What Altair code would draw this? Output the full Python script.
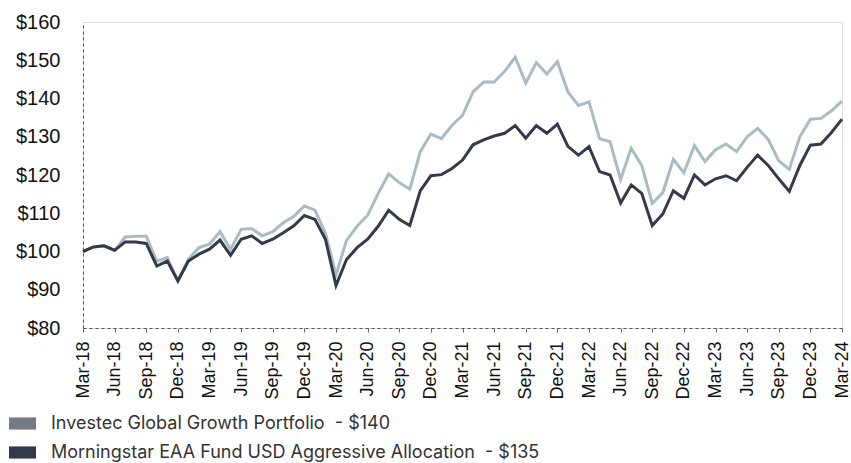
import altair as alt
import pandas as pd

months = list(pd.date_range("2018-03-01", "2024-03-01", freq="MS").strftime("%b-%y"))

investec = [
    100.0, 101.2, 101.5, 100.3, 103.8, 104.0, 104.0, 97.5, 98.4, 92.3,
    98.0, 101.0, 101.9, 105.2, 100.6, 105.8, 106.0, 104.1, 105.2, 107.5,
    109.2, 111.9, 110.8, 104.8, 93.9, 102.9, 106.6, 109.5, 115.2, 120.3,
    118.0, 116.3, 126.1, 130.7, 129.5, 133.0, 135.6, 141.7, 144.3, 144.3,
    147.1, 150.8, 144.0, 149.4, 146.4, 149.6, 141.7, 138.2, 139.1, 129.5,
    128.7, 118.8, 127.0, 122.5, 112.6, 115.4, 124.1, 120.6, 127.7, 123.5,
    126.6, 128.1, 126.1, 130.0, 132.2, 129.3, 123.7, 121.5, 130.0, 134.6,
    134.8, 136.8, 139.3,
]
morningstar = [
    100.0, 101.2, 101.5, 100.3, 102.5, 102.5, 102.1, 96.2, 97.5, 92.3,
    97.5, 99.3, 100.6, 103.0, 99.0, 103.2, 104.1, 102.1, 103.2, 104.9,
    106.7, 109.4, 108.4, 103.2, 91.1, 97.9, 101.0, 103.2, 106.6, 110.8,
    108.4, 106.8, 115.9, 119.8, 120.1, 121.7, 123.9, 127.9, 129.2, 130.2,
    130.9, 132.9, 129.6, 132.9, 130.9, 133.3, 127.5, 125.2, 127.4, 120.9,
    120.0, 112.7, 117.4, 115.2, 106.8, 109.8, 115.9, 113.9, 120.0, 117.4,
    119.0, 119.8, 118.5, 122.0, 125.2, 122.5, 119.0, 115.7, 122.5, 127.8,
    128.1, 131.1, 134.6,
]

series_names = ["Investec", "Morningstar"]
legend_labels = [
    "Investec Global Growth Portfolio \u00a0- $140",
    "Morningstar EAA Fund USD Aggressive Allocation \u00a0- $135",
]
line_colors = ["#a9bcc4", "#343a4b"]
legend_colors = ["#757b85", "#343a4b"]
y_ticks = [80, 90, 100, 110, 120, 130, 140, 150, 160]
x_ticks = months[::3]

rows = []
for name, lab, vals in zip(series_names, legend_labels, [investec, morningstar]):
    for m, v in zip(months, vals):
        rows.append({"month": m, "value": v, "series": name, "legend_label": lab})
df = pd.DataFrame(rows)

x_enc = alt.X(
    "month:O",
    sort=months,
    scale=alt.Scale(type="point", padding=0),
    axis=alt.Axis(
        values=x_ticks,
        title=None,
        labelAngle=-90,
        labelAlign="right",
        labelBaseline="middle",
        labelFont="Liberation Sans",
        labelFontSize=18,
        labelColor="#111111",
        labelPadding=9,
        ticks=True,
        tickSize=4,
        tickColor="#666666",
        domainColor="#555555",
        domainDash=[3, 3],
        domainWidth=1,
        grid=False,
    ),
)
y_enc = alt.Y(
    "value:Q",
    scale=alt.Scale(domain=[80, 160], nice=False, zero=False),
    axis=alt.Axis(
        values=y_ticks,
        title=None,
        labelExpr="'$' + datum.value",
        labelFont="Liberation Sans",
        labelFontSize=20,
        labelColor="#111111",
        labelPadding=23,
        ticks=False,
        domainColor="#555555",
        domainDash=[3, 3],
        domainWidth=1,
        grid=False,
    ),
)

lines = alt.Chart(df).mark_line(strokeWidth=3).encode(
    x=x_enc,
    y=y_enc,
    color=alt.Color(
        "series:N",
        scale=alt.Scale(domain=series_names, range=line_colors),
        legend=None,
    ),
)

legend_layer = alt.Chart(df).mark_square(opacity=0, size=10).encode(
    x=x_enc,
    y=y_enc,
    fill=alt.Fill(
        "legend_label:N",
        scale=alt.Scale(domain=legend_labels, range=legend_colors),
        legend=alt.Legend(
            title=None,
            orient="none",
            legendX=-74,
            legendY=388,
            direction="vertical",
            symbolType="M-1,-0.45H1V0.45H-1Z",
            symbolSize=729,
            symbolOpacity=1,
            symbolStrokeWidth=0,
            labelFont="Inter",
            labelFontSize=18,
            labelColor="#333333",
            labelOffset=15,
            rowPadding=6,
            labelLimit=700,
        ),
    ),
)

chart = (
    alt.layer(lines, legend_layer)
    .resolve_scale(color="independent", fill="independent")
    .properties(
        width=759,
        height=306,
        autosize=alt.AutoSizeParams(type="none"),
        padding={"left": 83, "top": 22, "right": 9, "bottom": 135},
    )
    .configure_view(stroke=None)
    .configure(background="white")
)

chart.save("out.html", embed_options={"renderer": "svg", "actions": False})
